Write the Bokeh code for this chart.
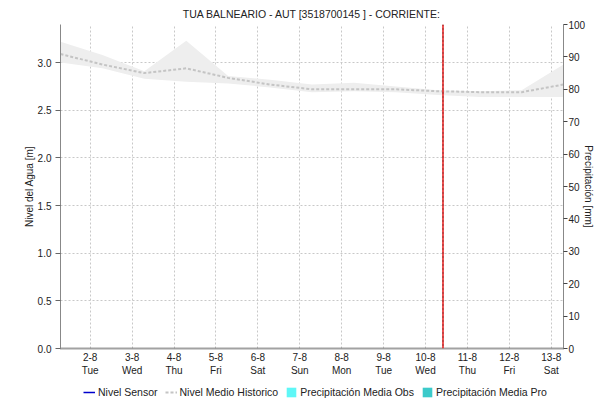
from datetime import datetime
from bokeh.plotting import figure
from bokeh.layouts import column
from bokeh.models import (Range1d, LinearAxis, FixedTicker, SingleIntervalTicker,
                          NumeralTickFormatter, Span, Legend, LegendItem)
from bokeh.embed import file_html
from bokeh.resources import INLINE

title_text = "TUA BALNEARIO - AUT [3518700145 ] - CORRIENTE:"
base_date = "2022-08-01 00:00"

hist_dates = ["2022-08-01 07:00", "2022-08-02 07:00", "2022-08-03 07:00", "2022-08-04 07:00",
              "2022-08-05 07:00", "2022-08-06 07:00", "2022-08-07 07:00", "2022-08-08 07:00",
              "2022-08-09 07:00", "2022-08-10 07:00", "2022-08-11 07:00", "2022-08-12 07:00",
              "2022-08-13 07:00"]
hist_mean = [3.09, 2.98, 2.89, 2.94, 2.84, 2.77, 2.72, 2.72, 2.72, 2.70, 2.69, 2.69, 2.77]
hist_max = [3.22, 3.08, 2.91, 3.23, 2.86, 2.82, 2.77, 2.79, 2.75, 2.71, 2.70, 2.71, 2.98]
hist_min = [3.00, 2.94, 2.83, 2.80, 2.78, 2.74, 2.69, 2.70, 2.69, 2.66, 2.64, 2.64, 2.64]

# series that have no values in this window
sensor_dates = []
sensor_level = []
precip_obs_dates = []
precip_obs = []
precip_pro_dates = []
precip_pro = []

now_date = "2022-08-10 10:00"

tick_dates = ["2022-08-02", "2022-08-03", "2022-08-04", "2022-08-05", "2022-08-06", "2022-08-07",
              "2022-08-08", "2022-08-09", "2022-08-10", "2022-08-11", "2022-08-12", "2022-08-13"]
tick_labels = ["2-8\nTue", "3-8\nWed", "4-8\nThu", "5-8\nFri", "6-8\nSat", "7-8\nSun",
               "8-8\nMon", "9-8\nTue", "10-8\nWed", "11-8\nThu", "12-8\nFri", "13-8\nSat"]

level_range = (0, 3.4)
precip_range = (0, 100)

legend_labels = ["Nivel Sensor", "Nivel Medio Historico",
                 "Precipitación Media Obs", "Precipitación Media Pro"]

base = datetime.strptime(base_date, "%Y-%m-%d %H:%M")
NAN = float("nan")


def to_day(s):
    fmt = "%Y-%m-%d %H:%M" if ":" in s else "%Y-%m-%d"
    return (datetime.strptime(s, fmt) - base).total_seconds() / 86400.0


def days(lst):
    return [to_day(d) for d in lst] or [NAN]


def vals(lst):
    return list(lst) or [NAN]


hx = days(hist_dates)
tx = [to_day(d) for d in tick_dates]

FONT = "Liberation Sans"
TXT = "#222222"

SENSOR = dict(line_color="#0000cc", line_width=1.5)
HIST = dict(line_color="#c4c4c4", line_width=2, line_dash="3 2")
OBS = dict(fill_color="#5ff7f7", line_color=None)
PRO = dict(fill_color="#3ccaca", line_color=None)

p = figure(width=597, height=380, output_backend="svg", toolbar_location=None,
           x_range=Range1d(hx[0], hx[-1]), y_range=Range1d(*level_range),
           min_border_left=60, min_border_right=32, min_border_top=23, min_border_bottom=32)
p.extra_y_ranges = {"precip": Range1d(*precip_range)}
p.outline_line_color = None
p.background_fill_color = "white"
p.border_fill_color = "white"

p.title.text = title_text
p.title.align = "center"
p.title.text_font = FONT
p.title.text_font_size = "10.5px"
p.title.text_font_style = "normal"
p.title.text_color = TXT

p.varea(x=hx, y1=hist_min, y2=hist_max, fill_color="#eeeeee")
p.line(x=hx, y=hist_mean, **HIST)
p.line(x=days(sensor_dates), y=vals(sensor_level), **SENSOR)
p.vbar(x=days(precip_obs_dates), top=vals(precip_obs), width=0.04, y_range_name="precip", **OBS)
p.vbar(x=days(precip_pro_dates), top=vals(precip_pro), width=0.04, y_range_name="precip", **PRO)

now_x = to_day(now_date)
p.add_layout(Span(location=now_x, dimension="height", line_color="#e81818", line_width=1.5))
p.add_layout(Span(location=now_x, dimension="height", line_color="#502020", line_width=1,
                  line_dash="1 3"))

# x axis
xa = p.xaxis[0]
xa.ticker = FixedTicker(ticks=tx)
xa.major_label_overrides = {t: lab for t, lab in zip(tx, tick_labels)}
xa.major_label_text_font = FONT
xa.major_label_text_font_size = "10px"
xa.major_label_text_color = TXT
xa.major_tick_out = 0
xa.major_tick_in = 0
xa.minor_tick_out = 0
xa.axis_line_color = "#444444"
xa.axis_line_width = 2
xa.axis_line_dash = "1 1"
xa.major_label_standoff = 3

# left axis
ya = p.yaxis[0]
ya.ticker = SingleIntervalTicker(interval=0.5)
ya.formatter = NumeralTickFormatter(format="0.0")
ya.axis_label = "Nivel del Agua [m]"
ya.axis_label_text_font = FONT
ya.axis_label_text_font_size = "10px"
ya.axis_label_text_font_style = "normal"
ya.axis_label_text_color = TXT
ya.axis_label_standoff = 0
ya.major_label_text_font = FONT
ya.major_label_text_font_size = "10px"
ya.major_label_text_color = TXT
ya.axis_line_color = "#888888"
ya.major_tick_line_color = "#666666"
ya.major_tick_out = 5
ya.major_tick_in = 0
ya.minor_tick_out = 0
ya.major_label_standoff = 4

# right axis
ra = LinearAxis(y_range_name="precip", ticker=SingleIntervalTicker(interval=10))
ra.axis_label = "Precipitación [mm]"
ra.axis_label_text_font = FONT
ra.axis_label_text_font_size = "10px"
ra.axis_label_text_font_style = "normal"
ra.axis_label_text_color = TXT
ra.axis_label_standoff = -5
ra.major_label_text_font = FONT
ra.major_label_text_font_size = "10px"
ra.major_label_text_color = TXT
ra.axis_line_color = "#888888"
ra.major_tick_line_color = "#444444"
ra.major_tick_out = 4
ra.major_tick_in = 0
ra.minor_tick_out = 0
ra.major_label_standoff = 1
p.add_layout(ra, "right")

# grids
p.xgrid.ticker = FixedTicker(ticks=tx)
p.xgrid.grid_line_color = "#c8c8c8"
p.xgrid.grid_line_dash = "2 2"
p.ygrid.grid_line_color = "#c8c8c8"
p.ygrid.grid_line_dash = "2 2"

# legend strip below the chart
lg = figure(width=597, height=22, output_backend="svg", toolbar_location=None,
            x_range=Range1d(0, 1), y_range=Range1d(0, 1),
            min_border=0, min_border_left=0, min_border_right=0,
            min_border_top=0, min_border_bottom=0)
lg.axis.visible = False
lg.grid.visible = False
lg.outline_line_color = None
lg.border_fill_color = "white"
l1 = lg.line(x=days(sensor_dates), y=vals(sensor_level), **SENSOR)
l2 = lg.line(x=[NAN], y=[NAN], **HIST)
l3 = lg.vbar(x=days(precip_obs_dates), top=vals(precip_obs), width=0.04, **OBS)
l4 = lg.vbar(x=days(precip_pro_dates), top=vals(precip_pro), width=0.04, **PRO)

legend = Legend(items=[LegendItem(label=lab, renderers=[r])
                       for lab, r in zip(legend_labels, [l1, l2, l3, l4])],
                orientation="horizontal", location=(23, 4))
legend.label_text_font = FONT
legend.label_text_font_size = "10.5px"
legend.label_text_color = TXT
legend.border_line_color = None
legend.background_fill_alpha = 0
legend.glyph_width = 12
legend.glyph_height = 12
legend.label_standoff = 3
legend.spacing = 7
legend.padding = 0
legend.margin = 0
lg.add_layout(legend)

open("out.html", "w").write(file_html(column(p, lg, spacing=0), INLINE))
